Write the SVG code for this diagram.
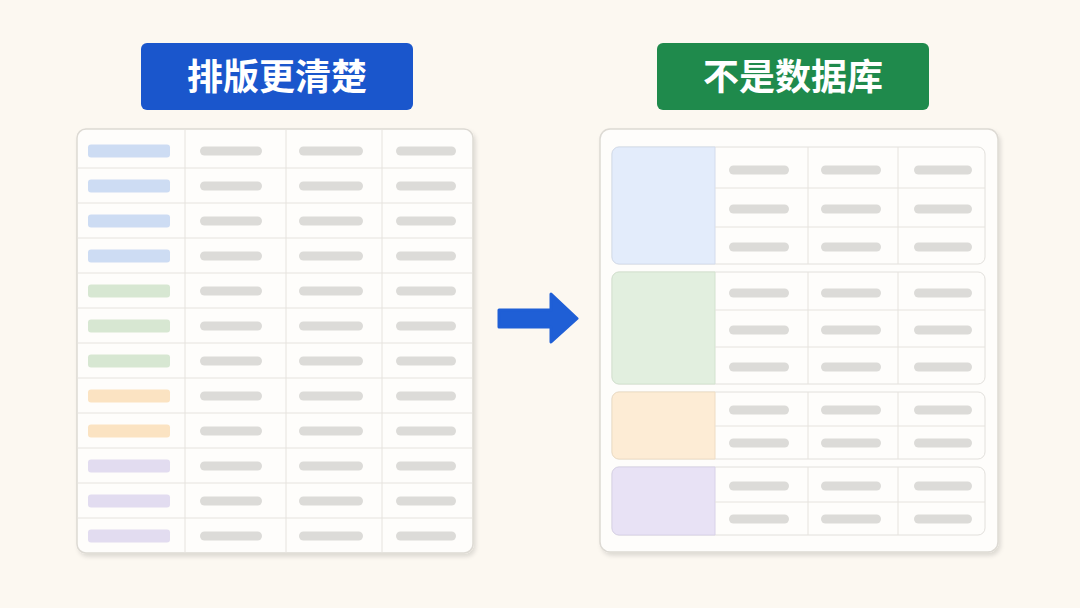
<svg xmlns="http://www.w3.org/2000/svg" width="1080" height="608" viewBox="0 0 1080 608">
<defs>
<style>
.t{font-family:"Noto Sans CJK SC","Noto Sans",sans-serif;font-weight:700;font-size:36px;fill:#fff;text-anchor:middle}
.card{fill:#fefdfb;stroke:#dddad4;stroke-width:1.5}
.ln{stroke:#e6e3de;stroke-width:1}
.g{fill:#dcdbd8}
.grp{fill:#fefdfb;stroke:#e2e0dc;stroke-width:1}
</style>
<filter id="sh" x="-5%" y="-5%" width="110%" height="110%"><feDropShadow dx="2" dy="3" stdDeviation="2" flood-color="#000" flood-opacity="0.12"/></filter>
</defs>
<rect width="1080" height="608" fill="#fcf8f1"/>
<g id="title-left"><rect x="141" y="43" width="272" height="67" rx="6" fill="#1a56cc"/><text class="t" x="277" y="90">排版更清楚</text></g>
<g id="title-right"><rect x="657" y="43" width="272" height="67" rx="6" fill="#1f8a4c"/><text class="t" x="793" y="90">不是数据库</text></g>
<g id="left-table">
<rect class="card" x="77" y="129" width="396" height="424" rx="9" filter="url(#sh)"/>
<g class="ln">
<line x1="185" y1="129" x2="185" y2="553"/><line x1="286" y1="129" x2="286" y2="553"/><line x1="382" y1="129" x2="382" y2="553"/>
<line x1="77" y1="168" x2="473" y2="168"/><line x1="77" y1="203" x2="473" y2="203"/><line x1="77" y1="238" x2="473" y2="238"/><line x1="77" y1="273" x2="473" y2="273"/><line x1="77" y1="308" x2="473" y2="308"/><line x1="77" y1="343" x2="473" y2="343"/><line x1="77" y1="378" x2="473" y2="378"/><line x1="77" y1="413" x2="473" y2="413"/><line x1="77" y1="448" x2="473" y2="448"/><line x1="77" y1="483" x2="473" y2="483"/><line x1="77" y1="518" x2="473" y2="518"/>
</g>
<g id="left-rows">
<g transform="translate(0,151)"><rect x="88" y="-6.5" width="82" height="13" rx="3" fill="#cddcf3"/><rect class="g" x="200" y="-4.5" width="62" height="9" rx="4.5"/><rect class="g" x="299" y="-4.5" width="64" height="9" rx="4.5"/><rect class="g" x="396" y="-4.5" width="60" height="9" rx="4.5"/></g>
<g transform="translate(0,186)"><rect x="88" y="-6.5" width="82" height="13" rx="3" fill="#cddcf3"/><rect class="g" x="200" y="-4.5" width="62" height="9" rx="4.5"/><rect class="g" x="299" y="-4.5" width="64" height="9" rx="4.5"/><rect class="g" x="396" y="-4.5" width="60" height="9" rx="4.5"/></g>
<g transform="translate(0,221)"><rect x="88" y="-6.5" width="82" height="13" rx="3" fill="#cddcf3"/><rect class="g" x="200" y="-4.5" width="62" height="9" rx="4.5"/><rect class="g" x="299" y="-4.5" width="64" height="9" rx="4.5"/><rect class="g" x="396" y="-4.5" width="60" height="9" rx="4.5"/></g>
<g transform="translate(0,256)"><rect x="88" y="-6.5" width="82" height="13" rx="3" fill="#cddcf3"/><rect class="g" x="200" y="-4.5" width="62" height="9" rx="4.5"/><rect class="g" x="299" y="-4.5" width="64" height="9" rx="4.5"/><rect class="g" x="396" y="-4.5" width="60" height="9" rx="4.5"/></g>
<g transform="translate(0,291)"><rect x="88" y="-6.5" width="82" height="13" rx="3" fill="#d7e7d2"/><rect class="g" x="200" y="-4.5" width="62" height="9" rx="4.5"/><rect class="g" x="299" y="-4.5" width="64" height="9" rx="4.5"/><rect class="g" x="396" y="-4.5" width="60" height="9" rx="4.5"/></g>
<g transform="translate(0,326)"><rect x="88" y="-6.5" width="82" height="13" rx="3" fill="#d7e7d2"/><rect class="g" x="200" y="-4.5" width="62" height="9" rx="4.5"/><rect class="g" x="299" y="-4.5" width="64" height="9" rx="4.5"/><rect class="g" x="396" y="-4.5" width="60" height="9" rx="4.5"/></g>
<g transform="translate(0,361)"><rect x="88" y="-6.5" width="82" height="13" rx="3" fill="#d7e7d2"/><rect class="g" x="200" y="-4.5" width="62" height="9" rx="4.5"/><rect class="g" x="299" y="-4.5" width="64" height="9" rx="4.5"/><rect class="g" x="396" y="-4.5" width="60" height="9" rx="4.5"/></g>
<g transform="translate(0,396)"><rect x="88" y="-6.5" width="82" height="13" rx="3" fill="#fbe3c2"/><rect class="g" x="200" y="-4.5" width="62" height="9" rx="4.5"/><rect class="g" x="299" y="-4.5" width="64" height="9" rx="4.5"/><rect class="g" x="396" y="-4.5" width="60" height="9" rx="4.5"/></g>
<g transform="translate(0,431)"><rect x="88" y="-6.5" width="82" height="13" rx="3" fill="#fbe3c2"/><rect class="g" x="200" y="-4.5" width="62" height="9" rx="4.5"/><rect class="g" x="299" y="-4.5" width="64" height="9" rx="4.5"/><rect class="g" x="396" y="-4.5" width="60" height="9" rx="4.5"/></g>
<g transform="translate(0,466)"><rect x="88" y="-6.5" width="82" height="13" rx="3" fill="#e2dcf0"/><rect class="g" x="200" y="-4.5" width="62" height="9" rx="4.5"/><rect class="g" x="299" y="-4.5" width="64" height="9" rx="4.5"/><rect class="g" x="396" y="-4.5" width="60" height="9" rx="4.5"/></g>
<g transform="translate(0,501)"><rect x="88" y="-6.5" width="82" height="13" rx="3" fill="#e2dcf0"/><rect class="g" x="200" y="-4.5" width="62" height="9" rx="4.5"/><rect class="g" x="299" y="-4.5" width="64" height="9" rx="4.5"/><rect class="g" x="396" y="-4.5" width="60" height="9" rx="4.5"/></g>
<g transform="translate(0,536)"><rect x="88" y="-6.5" width="82" height="13" rx="3" fill="#e2dcf0"/><rect class="g" x="200" y="-4.5" width="62" height="9" rx="4.5"/><rect class="g" x="299" y="-4.5" width="64" height="9" rx="4.5"/><rect class="g" x="396" y="-4.5" width="60" height="9" rx="4.5"/></g>
</g>
</g>
<g id="connectors"><path d="M499 310 H551 V294 L577 318.5 L551 342 V327 H499 Z" fill="#1f5fd6" stroke="#1f5fd6" stroke-width="3" stroke-linejoin="round"/></g>
<g id="right-table">
<rect class="card" x="600" y="129" width="398" height="423" rx="10" filter="url(#sh)"/>
<g id="grp-blue">
<rect class="grp" x="612" y="147" width="373" height="117" rx="7"/>
<path d="M619 147 H715 V264 H619 A7 7 0 0 1 612 257 V154 A7 7 0 0 1 619 147 Z" fill="#e3ecfb" stroke="#d3dcec"/>
<g class="ln"><line x1="808" y1="147" x2="808" y2="264"/><line x1="898" y1="147" x2="898" y2="264"/><line x1="715" y1="188" x2="985" y2="188"/><line x1="715" y1="227" x2="985" y2="227"/></g>
<g class="g"><rect x="729" y="165.5" width="60" height="9" rx="4.5"/><rect x="821" y="165.5" width="60" height="9" rx="4.5"/><rect x="914" y="165.5" width="58" height="9" rx="4.5"/>
<rect x="729" y="204.5" width="60" height="9" rx="4.5"/><rect x="821" y="204.5" width="60" height="9" rx="4.5"/><rect x="914" y="204.5" width="58" height="9" rx="4.5"/>
<rect x="729" y="242.5" width="60" height="9" rx="4.5"/><rect x="821" y="242.5" width="60" height="9" rx="4.5"/><rect x="914" y="242.5" width="58" height="9" rx="4.5"/></g>
</g>
<g id="grp-green">
<rect class="grp" x="612" y="272" width="373" height="112" rx="7"/>
<path d="M619 272 H715 V384 H619 A7 7 0 0 1 612 377 V279 A7 7 0 0 1 619 272 Z" fill="#e2efdf" stroke="#d3e2cf"/>
<g class="ln"><line x1="808" y1="272" x2="808" y2="384"/><line x1="898" y1="272" x2="898" y2="384"/><line x1="715" y1="310" x2="985" y2="310"/><line x1="715" y1="347" x2="985" y2="347"/></g>
<g class="g"><rect x="729" y="288.5" width="60" height="9" rx="4.5"/><rect x="821" y="288.5" width="60" height="9" rx="4.5"/><rect x="914" y="288.5" width="58" height="9" rx="4.5"/>
<rect x="729" y="325.5" width="60" height="9" rx="4.5"/><rect x="821" y="325.5" width="60" height="9" rx="4.5"/><rect x="914" y="325.5" width="58" height="9" rx="4.5"/>
<rect x="729" y="362.5" width="60" height="9" rx="4.5"/><rect x="821" y="362.5" width="60" height="9" rx="4.5"/><rect x="914" y="362.5" width="58" height="9" rx="4.5"/></g>
</g>
<g id="grp-orange">
<rect class="grp" x="612" y="392" width="373" height="67" rx="7"/>
<path d="M619 392 H715 V459 H619 A7 7 0 0 1 612 452 V399 A7 7 0 0 1 619 392 Z" fill="#fdecd5" stroke="#eeddc4"/>
<g class="ln"><line x1="808" y1="392" x2="808" y2="459"/><line x1="898" y1="392" x2="898" y2="459"/><line x1="715" y1="426" x2="985" y2="426"/></g>
<g class="g"><rect x="729" y="405.5" width="60" height="9" rx="4.5"/><rect x="821" y="405.5" width="60" height="9" rx="4.5"/><rect x="914" y="405.5" width="58" height="9" rx="4.5"/>
<rect x="729" y="438.5" width="60" height="9" rx="4.5"/><rect x="821" y="438.5" width="60" height="9" rx="4.5"/><rect x="914" y="438.5" width="58" height="9" rx="4.5"/></g>
</g>
<g id="grp-purple">
<rect class="grp" x="612" y="467" width="373" height="68" rx="7"/>
<path d="M619 467 H715 V535 H619 A7 7 0 0 1 612 528 V474 A7 7 0 0 1 619 467 Z" fill="#e8e2f5" stroke="#d8d2e8"/>
<g class="ln"><line x1="808" y1="467" x2="808" y2="535"/><line x1="898" y1="467" x2="898" y2="535"/><line x1="715" y1="502" x2="985" y2="502"/></g>
<g class="g"><rect x="729" y="481.5" width="60" height="9" rx="4.5"/><rect x="821" y="481.5" width="60" height="9" rx="4.5"/><rect x="914" y="481.5" width="58" height="9" rx="4.5"/>
<rect x="729" y="514.5" width="60" height="9" rx="4.5"/><rect x="821" y="514.5" width="60" height="9" rx="4.5"/><rect x="914" y="514.5" width="58" height="9" rx="4.5"/></g>
</g>
</g>
</svg>
